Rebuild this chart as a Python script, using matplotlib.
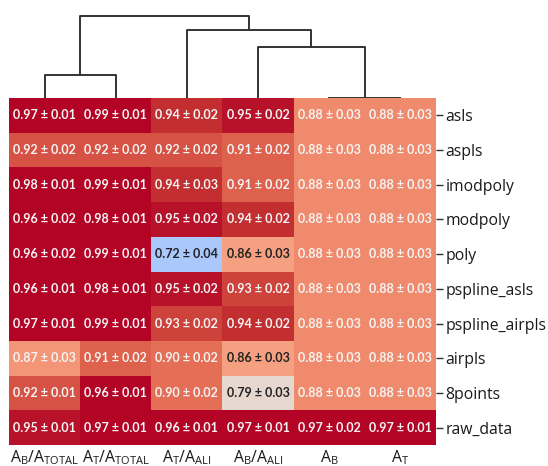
import numpy as np
import matplotlib
matplotlib.use("Agg")
import matplotlib.pyplot as plt

plt.rcParams['font.family'] = ['Open Sans', 'DejaVu Sans']
plt.rcParams['mathtext.fontset'] = 'custom'
plt.rcParams['mathtext.rm'] = 'Open Sans'

# data
rows = ['asls', 'aspls', 'imodpoly', 'modpoly', 'poly', 'pspline_asls',
        'pspline_airpls', 'airpls', '8points', 'raw_data']
cols = [r'$\mathregular{A_B/A_{TOTAL}}$', r'$\mathregular{A_T/A_{TOTAL}}$',
        r'$\mathregular{A_T/A_{ALI}}$', r'$\mathregular{A_B/A_{ALI}}$',
        r'$\mathregular{A_B}$', r'$\mathregular{A_T}$']

means = np.array([
    [0.97, 0.99, 0.94, 0.95, 0.88, 0.88],
    [0.92, 0.92, 0.92, 0.91, 0.88, 0.88],
    [0.98, 0.99, 0.94, 0.91, 0.88, 0.88],
    [0.96, 0.98, 0.95, 0.94, 0.88, 0.88],
    [0.96, 0.99, 0.72, 0.86, 0.88, 0.88],
    [0.96, 0.98, 0.95, 0.93, 0.88, 0.88],
    [0.97, 0.99, 0.93, 0.94, 0.88, 0.88],
    [0.87, 0.91, 0.90, 0.86, 0.88, 0.88],
    [0.92, 0.96, 0.90, 0.79, 0.88, 0.88],
    [0.95, 0.97, 0.96, 0.97, 0.97, 0.97],
])
stds = np.array([
    [0.01, 0.01, 0.02, 0.02, 0.03, 0.03],
    [0.02, 0.02, 0.02, 0.02, 0.03, 0.03],
    [0.01, 0.01, 0.03, 0.02, 0.03, 0.03],
    [0.02, 0.01, 0.02, 0.02, 0.03, 0.03],
    [0.02, 0.01, 0.04, 0.03, 0.03, 0.03],
    [0.01, 0.01, 0.02, 0.02, 0.03, 0.03],
    [0.01, 0.01, 0.02, 0.02, 0.03, 0.03],
    [0.03, 0.02, 0.02, 0.03, 0.03, 0.03],
    [0.01, 0.01, 0.02, 0.03, 0.03, 0.03],
    [0.01, 0.01, 0.01, 0.01, 0.02, 0.01],
])

# column dendrogram merges (scipy style: left, right, height)
links = [
    [4, 5, 0.00],
    [0, 1, 0.28],
    [3, 6, 0.62],
    [2, 8, 0.82],
    [7, 9, 1.00],
]

fig = plt.figure(figsize=(5.48, 4.66), dpi=100)
W, H = 548, 466
x0, x1 = 9, 436
y0, y1 = 98, 445

ax = fig.add_axes([x0 / W, 1 - y1 / H, (x1 - x0) / W, (y1 - y0) / H])
ax.pcolormesh(means, cmap='coolwarm', vmin=0.60, vmax=0.955)
ax.set_xlim(0, means.shape[1])
ax.set_ylim(means.shape[0], 0)

for i in range(means.shape[0]):
    for j in range(means.shape[1]):
        c = '#222222' if means[i, j] < 0.87 else '#f4f4f4'
        ax.text(j + 0.5, i + 0.5, f'{means[i, j]:.2f} ± {stds[i, j]:.2f}',
                ha='center', va='center', color=c, fontsize=9,
                fontweight='bold', family='Lato')

ax.yaxis.tick_right()
ax.set_yticks(np.arange(len(rows)) + 0.5)
ax.set_yticklabels(rows, fontsize=11.3, color='#1a1a1a')
ax.set_xticks(np.arange(len(cols)) + 0.5)
ax.set_xticklabels(cols, fontsize=11.3, color='#1a1a1a')
ax.tick_params(axis='y', length=5, width=1, color='#333333', pad=2)
ax.tick_params(axis='x', length=0, pad=2.5)
for s in ax.spines.values():
    s.set_visible(False)

# dendrogram on top
dax = fig.add_axes([x0 / W, 1 - y0 / H, (x1 - x0) / W, (y0 - 14) / H])
pos = {k: k + 0.5 for k in range(len(cols))}
hgt = {k: 0.0 for k in range(len(cols))}
nid = len(cols)
for a, b, h in links:
    xa, xb = pos[a], pos[b]
    dax.plot([xa, xa, xb, xb], [hgt[a], h, h, hgt[b]], color='#333333', lw=1.4)
    pos[nid] = (xa + xb) / 2
    hgt[nid] = h
    nid += 1
dax.set_xlim(0, len(cols))
dax.set_ylim(0, 1.02)
dax.axis('off')

fig.savefig('out.png', dpi=100)
